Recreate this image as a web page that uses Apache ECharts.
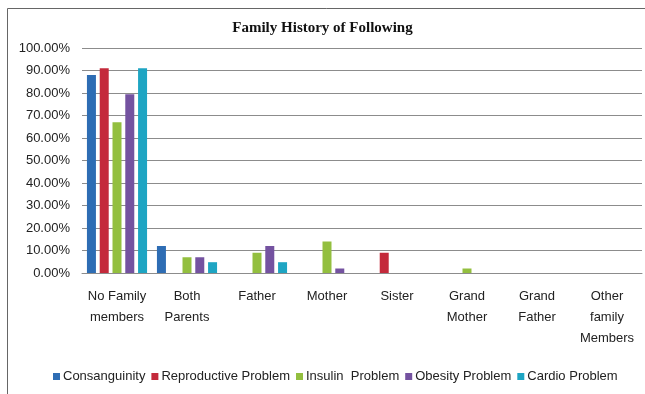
<!DOCTYPE html>
<html>
<head>
<meta charset="utf-8">
<script src="https://cdn.jsdelivr.net/npm/echarts@6/dist/echarts.min.js"></script>
<style>
  html, body { margin: 0; padding: 0; background: #fff; }
  #chart { width: 645px; height: 394px; }
</style>
</head>
<body>
<div id="chart"></div>
<script>
// categories and values (percent)
const categories = ['No Family\nmembers', 'Both\nParents', 'Father', 'Mother', 'Sister', 'Grand\nMother', 'Grand\nFather', 'Other\nfamily\nMembers'];
const seriesNames = ['Consanguinity', 'Reproductive Problem', 'Insulin  Problem', 'Obesity Problem', 'Cardio Problem'];
const consanguinity = [88, 12, 0, 0, 0, 0, 0, 0];
const reproductive = [91, 0, 0, 0, 9, 0, 0, 0];
const insulin = [67, 7, 9, 14, 0, 2, 0, 0];
const obesity = [79.5, 7, 12, 2, 0, 0, 0, 0];
const cardio = [91, 4.8, 4.8, 0, 0, 0, 0, 0];
const colors = ['#2e6db4', '#c42a3b', '#93bf3f', '#7452a0', '#1ea5c3'];
const allValues = [consanguinity, reproductive, insulin, obesity, cardio];

const font = '"Liberation Sans", sans-serif';
const chart = echarts.init(document.getElementById('chart'));
chart.setOption({
  backgroundColor: '#fff',
  animation: false,
  color: colors,
  title: {
    text: 'Family History of Following',
    left: 'center',
    top: 16,
    textStyle: { fontFamily: '"Liberation Serif", serif', fontWeight: 'bold', fontSize: 15, color: '#111' }
  },
  graphic: [{
    type: 'rect',
    shape: { x: 7.5, y: 8.5, width: 700, height: 500 },
    style: { fill: 'none', stroke: '#666', lineWidth: 1 }
  }],
  legend: {
    bottom: 6,
    left: 48,
    itemWidth: 7,
    itemHeight: 7,
    itemGap: 6,
    icon: 'rect',
    textStyle: { fontFamily: font, fontSize: 13, color: '#222', padding: [0, 0, 0, -2] },
    data: seriesNames
  },
  grid: { left: 82, right: 3, top: 48, bottom: 121, containLabel: false },
  xAxis: {
    type: 'category',
    data: categories,
    axisLine: { lineStyle: { color: '#8c8c8c' } },
    axisTick: { show: false },
    axisLabel: { fontFamily: font, fontSize: 13, color: '#222', lineHeight: 21, margin: 13, interval: 0 }
  },
  yAxis: {
    type: 'value',
    min: 0,
    max: 100,
    interval: 10,
    axisLine: { show: false },
    axisTick: { show: false },
    splitLine: { lineStyle: { color: '#8c8c8c', width: 1 } },
    axisLabel: {
      fontFamily: font, fontSize: 13, color: '#222', margin: 12,
      formatter: v => v.toFixed(2) + '%'
    }
  },
  series: seriesNames.map((name, i) => ({
    name: name,
    type: 'bar',
    data: allValues[i],
    barWidth: 9,
    barGap: '42%'
  }))
});
</script>
</body>
</html>
